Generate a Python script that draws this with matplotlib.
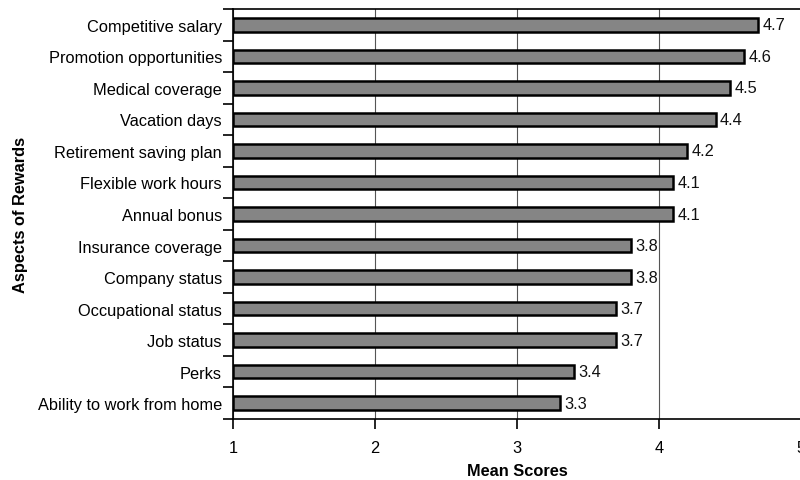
import matplotlib
matplotlib.use("Agg")
import matplotlib.pyplot as plt
import numpy as np

categories = [
    "Competitive salary", "Promotion opportunities", "Medical coverage",
    "Vacation days", "Retirement saving plan", "Flexible work hours",
    "Annual bonus", "Insurance coverage", "Company status",
    "Occupational status", "Job status", "Perks", "Ability to work from home",
]
mean_scores = [4.7, 4.6, 4.5, 4.4, 4.2, 4.1, 4.1, 3.8, 3.8, 3.7, 3.7, 3.4, 3.3]
x_ticks = [1, 2, 3, 4, 5]

plt.rcParams['font.family'] = ['Liberation Sans', 'DejaVu Sans']
FS = 11.8

fig = plt.figure(figsize=(8.0, 4.81), dpi=100)
ax = fig.add_axes([233 / 800, 1 - 420 / 481, 568 / 800, 410 / 481])

n = len(categories)
ypos = np.arange(n)
ax.barh(ypos, np.array(mean_scores) - 1, left=1, height=0.43,
        color="#858585", edgecolor="black", linewidth=1.8, zorder=3)

for y, v in zip(ypos, mean_scores):
    ax.text(v + 0.03, y, f"{v:.1f}", va="center", ha="left",
            fontsize=FS, color="#111111", zorder=4)

ax.set_xlim(1, 5)
ax.set_ylim(n - 0.5, -0.5)
ax.set_xticks(x_ticks)
ax.set_xticklabels([str(t) for t in x_ticks], fontsize=FS)

# category names centred on bars, ticks between categories
ax.set_yticks(ypos)
ax.set_yticklabels(categories, fontsize=FS)
ax.tick_params(axis="y", which="major", length=0, pad=8)
ax.set_yticks(np.arange(-0.5, n, 1.0), minor=True)
ax.tick_params(axis="y", which="minor", length=7, width=1.2, direction="out")
ax.tick_params(axis="x", length=7, width=1.2, direction="out", pad=8)

ax.grid(axis="x", color="#555555", linewidth=0.8, zorder=0)
for s in ["left", "bottom", "top"]:
    ax.spines[s].set_linewidth(1.2)
ax.spines["right"].set_visible(False)

ax.set_xlabel("Mean Scores", fontsize=FS, fontweight="bold", labelpad=6)
ax.set_ylabel("Aspects of Rewards", fontsize=FS, fontweight="bold", labelpad=7)

fig.savefig("out.png", dpi=100)
